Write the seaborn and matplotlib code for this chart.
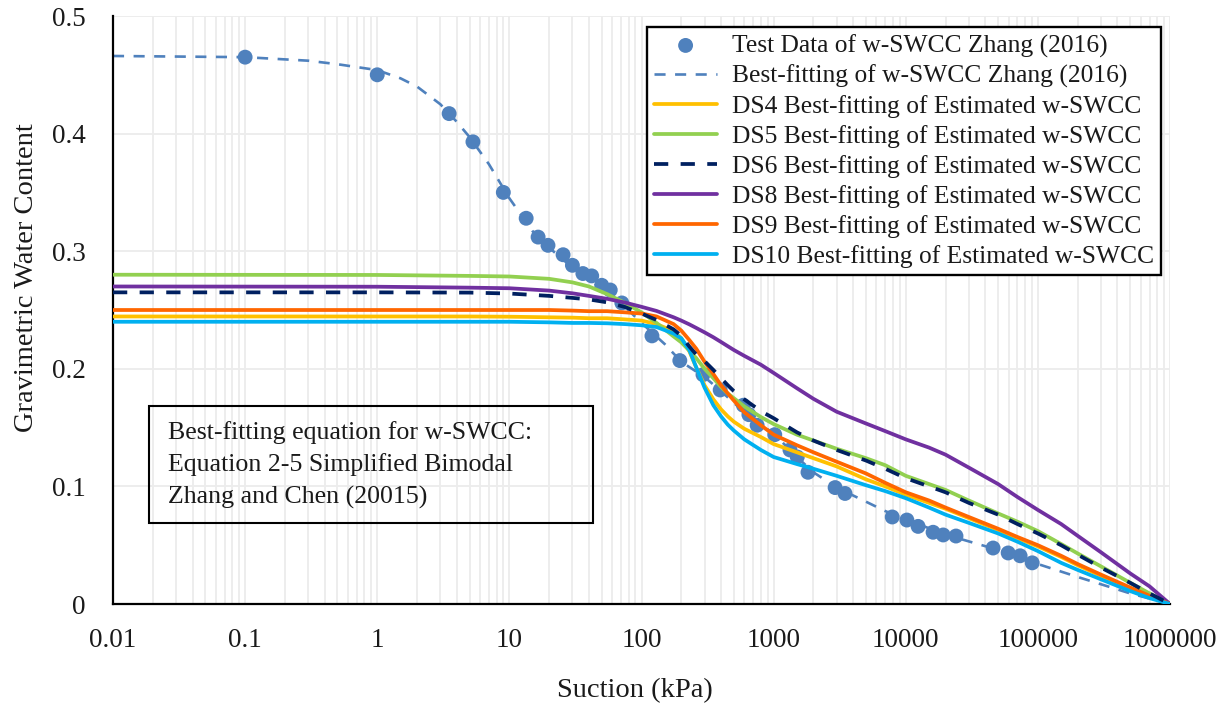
import numpy as np
import pandas as pd
import matplotlib
matplotlib.use("Agg")
import matplotlib.pyplot as plt
import seaborn as sns
from matplotlib.ticker import FixedLocator, FixedFormatter, LogLocator, NullFormatter

# ---------------- data ----------------
test_suction = [0.1, 1, 3.5, 5.3, 9.0, 13.4, 16.5, 19.6, 25.5, 30, 36, 42, 50, 58, 71,
                120, 195, 292, 394, 590, 650, 750, 1020, 1330, 1510, 1820, 2920, 3470,
                7900, 10200, 12400, 16100, 19200, 24000, 45800, 59600, 73400, 90600]
test_w = [0.465, 0.450, 0.417, 0.393, 0.350, 0.328, 0.312, 0.305, 0.297, 0.288, 0.281, 0.279, 0.271, 0.267, 0.256,
          0.228, 0.207, 0.195, 0.182, 0.169, 0.161, 0.152, 0.144, 0.131, 0.125, 0.112, 0.099, 0.094,
          0.074, 0.0714, 0.066, 0.061, 0.0587, 0.0578, 0.0476, 0.0434, 0.041, 0.035]

zhang_suction = [0.01, 0.1, 0.3, 0.5, 1, 1.5, 2, 3, 4, 5, 7, 10, 15, 20, 30, 40, 50, 70, 100, 150,
                 200, 300, 400, 500, 700, 1000, 1500, 2000, 3000, 5000, 7000, 1e4, 2e4, 5e4, 1e5,
                 2e5, 5e5, 1e6]
zhang_w = [0.466, 0.465, 0.462, 0.459, 0.454, 0.447, 0.440, 0.425, 0.410, 0.397, 0.374, 0.345, 0.317,
           0.303, 0.286, 0.276, 0.268, 0.256, 0.239, 0.221, 0.206, 0.193, 0.181, 0.171, 0.157, 0.145,
           0.125, 0.112, 0.099, 0.087, 0.079, 0.072, 0.059, 0.046, 0.034, 0.023, 0.009, 0.0]

ds_suction = [0.01, 1, 5, 10, 20, 30, 40, 55, 75, 100, 130, 175, 200, 230, 260, 300, 350, 400, 450,
              500, 600, 800, 1000, 1500, 2000, 3000, 5000, 7000, 1e4, 1.5e4, 2e4, 3e4, 5e4, 7e4,
              1e5, 1.5e5, 2e5, 3e5, 5e5, 7e5, 1e6]
ds4_w = [0.2445, 0.2445, 0.2445, 0.2443, 0.2438, 0.2435, 0.243, 0.243, 0.242, 0.241, 0.238, 0.232,
         0.226, 0.215, 0.201, 0.186, 0.174, 0.1655, 0.1595, 0.155, 0.149, 0.142, 0.136, 0.129, 0.124,
         0.117, 0.106, 0.100, 0.093, 0.086, 0.081, 0.073, 0.063, 0.056, 0.049, 0.040, 0.033, 0.024,
         0.013, 0.007, 0.0]
ds5_w = [0.280, 0.2798, 0.279, 0.2785, 0.2765, 0.2735, 0.270, 0.2635, 0.256, 0.248, 0.239, 0.2275,
         0.2225, 0.2155, 0.209, 0.200, 0.192, 0.1845, 0.179, 0.175, 0.168, 0.159, 0.153, 0.144, 0.139,
         0.132, 0.124, 0.118, 0.109, 0.102, 0.097, 0.088, 0.077, 0.070, 0.062, 0.051, 0.043, 0.032,
         0.018, 0.009, 0.0]
ds6_w = [0.265, 0.265, 0.2648, 0.264, 0.262, 0.2603, 0.259, 0.2565, 0.2525, 0.247, 0.2415, 0.2335,
         0.228, 0.219, 0.212, 0.2065, 0.199, 0.192, 0.186, 0.181, 0.174, 0.164, 0.158, 0.146, 0.139,
         0.131, 0.122, 0.115, 0.107, 0.100, 0.095, 0.086, 0.076, 0.068, 0.060, 0.050, 0.042, 0.031,
         0.018, 0.009, 0.0]
ds8_w = [0.270, 0.2698, 0.269, 0.2685, 0.2665, 0.2642, 0.262, 0.2595, 0.2563, 0.2527, 0.2492, 0.2438,
         0.241, 0.2378, 0.2347, 0.231, 0.2268, 0.2228, 0.2192, 0.216, 0.211, 0.2035, 0.1965, 0.1835, 0.1745,
         0.1635, 0.1535, 0.147, 0.140, 0.133, 0.127, 0.116, 0.102, 0.091, 0.080, 0.068, 0.058, 0.044,
         0.026, 0.015, 0.0]
ds9_w = [0.250, 0.250, 0.250, 0.250, 0.250, 0.2495, 0.249, 0.249, 0.248, 0.247, 0.2445, 0.238,
         0.2325, 0.2245, 0.217, 0.206, 0.1955, 0.186, 0.179, 0.173, 0.163, 0.152, 0.144, 0.135, 0.129,
         0.121, 0.111, 0.103, 0.095, 0.088, 0.082, 0.074, 0.064, 0.057, 0.050, 0.041, 0.034, 0.025,
         0.014, 0.007, 0.0]
ds10_w = [0.240, 0.240, 0.240, 0.240, 0.2395, 0.239, 0.239, 0.2387, 0.238, 0.237, 0.2355, 0.230,
          0.226, 0.216, 0.201, 0.184, 0.169, 0.1595, 0.1525, 0.1475, 0.140, 0.131, 0.125, 0.119, 0.115,
          0.109, 0.101, 0.096, 0.090, 0.082, 0.076, 0.069, 0.060, 0.053, 0.045, 0.035, 0.029, 0.021,
          0.011, 0.005, 0.0]

x_ticks = [0.01, 0.1, 1, 10, 100, 1000, 10000, 100000, 1000000]
x_tick_labels = ["0.01", "0.1", "1", "10", "100", "1000", "10000", "100000", "1000000"]
y_ticks = [0, 0.1, 0.2, 0.3, 0.4, 0.5]
y_tick_labels = ["0", "0.1", "0.2", "0.3", "0.4", "0.5"]

labels = ["Test Data of w-SWCC Zhang (2016)", "Best-fitting of w-SWCC Zhang (2016)",
          "DS4 Best-fitting of Estimated w-SWCC", "DS5 Best-fitting of Estimated w-SWCC",
          "DS6 Best-fitting of Estimated w-SWCC", "DS8 Best-fitting of Estimated w-SWCC",
          "DS9 Best-fitting of Estimated w-SWCC", "DS10 Best-fitting of Estimated w-SWCC"]

# ---------------- style ----------------
sns.set_style("white")
FONT = ["Liberation Serif", "DejaVu Serif"]
plt.rcParams["font.family"] = FONT
FS_TICK = 19.5
FS_LEG = 18.4
FS_BOX = 18.6
FS_LAB = 20.5
TXT = "#1a1a1a"

fig = plt.figure(figsize=(12.25, 7.1), dpi=100)
ax = fig.add_axes([113 / 1225, 1 - 604 / 710, (1170 - 113) / 1225, (604 - 16) / 710])
ax.set_xscale("log")

# test points
df_pts = pd.DataFrame({"s": test_suction, "w": test_w})
sns.scatterplot(data=df_pts, x="s", y="w", ax=ax, color="#4F81BD", s=115, edgecolor="none",
                label=labels[0], zorder=3)

# Zhang fit
df_z = pd.DataFrame({"s": zhang_suction, "w": zhang_w})
sns.lineplot(data=df_z, x="s", y="w", ax=ax, color="#4F81BD", lw=1.9, sort=False,
             estimator=None, label=labels[1], zorder=2)
ax.lines[-1].set_dashes([4.2, 3.6])

styles = [
    (ds4_w, "#FFC000", None),
    (ds5_w, "#92D050", None),
    (ds6_w, "#002060", [3.8, 3.3]),
    (ds8_w, "#7030A0", None),
    (ds9_w, "#FF6600", None),
    (ds10_w, "#00B0F0", None),
]
for (vals, col, dash), lab in zip(styles, labels[2:]):
    d = pd.DataFrame({"s": ds_suction, "w": vals})
    sns.lineplot(data=d, x="s", y="w", ax=ax, color=col, lw=2.7, sort=False,
                 estimator=None, label=lab, zorder=4)
    ln = ax.lines[-1]
    ln.set_solid_joinstyle("round")
    if dash is not None:
        ln.set_dashes(dash)
        ln.set_zorder(5)

ax.set_xlim(0.01, 1e6)
ax.set_ylim(0, 0.5)

ax.xaxis.set_major_locator(FixedLocator(x_ticks))
ax.xaxis.set_major_formatter(FixedFormatter(x_tick_labels))
ax.xaxis.set_minor_locator(LogLocator(base=10, subs=np.arange(2, 10), numticks=100))
ax.xaxis.set_minor_formatter(NullFormatter())
ax.yaxis.set_major_locator(FixedLocator(y_ticks))
ax.yaxis.set_major_formatter(FixedFormatter(y_tick_labels))

ax.grid(True, which="major", axis="both", color="#ECECEC", lw=1.3)
ax.grid(True, which="minor", axis="x", color="#ECECEC", lw=1.3)
ax.set_axisbelow(True)

for sp in ["top", "right"]:
    ax.spines[sp].set_visible(False)
for sp in ["left", "bottom"]:
    ax.spines[sp].set_color("black")
    ax.spines[sp].set_linewidth(1.6)

ax.tick_params(axis="both", which="major", direction="out", length=6.5, width=1.5,
               color="black", labelsize=FS_TICK, labelcolor=TXT)
ax.tick_params(axis="x", which="major", pad=11)
ax.tick_params(axis="y", which="major", pad=13)
ax.tick_params(axis="x", which="minor", length=0)

ax.set_xlabel("Suction (kPa)", fontsize=FS_LAB, color=TXT)
ax.set_ylabel("Gravimetric Water Content", fontsize=FS_LAB, color=TXT)
ax.xaxis.set_label_coords((634.5 - 113) / 1057, (604 - 678) / 588)
ax.yaxis.set_label_coords((39 - 113) / 1057, (604 - 278) / 588)

leg = ax.legend(loc="upper right", bbox_to_anchor=(1161 / 1225, 1 - 27 / 710),
                bbox_transform=fig.transFigure, fontsize=FS_LEG, frameon=True, fancybox=False,
                edgecolor="black", framealpha=1, handlelength=2.45, handletextpad=0.58,
                labelspacing=0.275, borderpad=0.28, borderaxespad=0, markerscale=1.0)
leg.get_frame().set_linewidth(1.7)
for t in leg.get_texts():
    t.set_color(TXT)

fig.text(168 / 1225, 1 - 421 / 710,
         "Best-fitting equation for w-SWCC:\nEquation 2-5 Simplified Bimodal\nZhang and Chen (20015)",
         fontsize=FS_BOX, va="top", ha="left", linespacing=1.52, color=TXT)
box = plt.Rectangle((149 / 1225, 1 - 523 / 710), (593 - 149) / 1225, (523 - 406) / 710,
                    transform=fig.transFigure, fill=False, edgecolor="black", lw=1.5)
fig.add_artist(box)

fig.savefig("out.png", dpi=100)
